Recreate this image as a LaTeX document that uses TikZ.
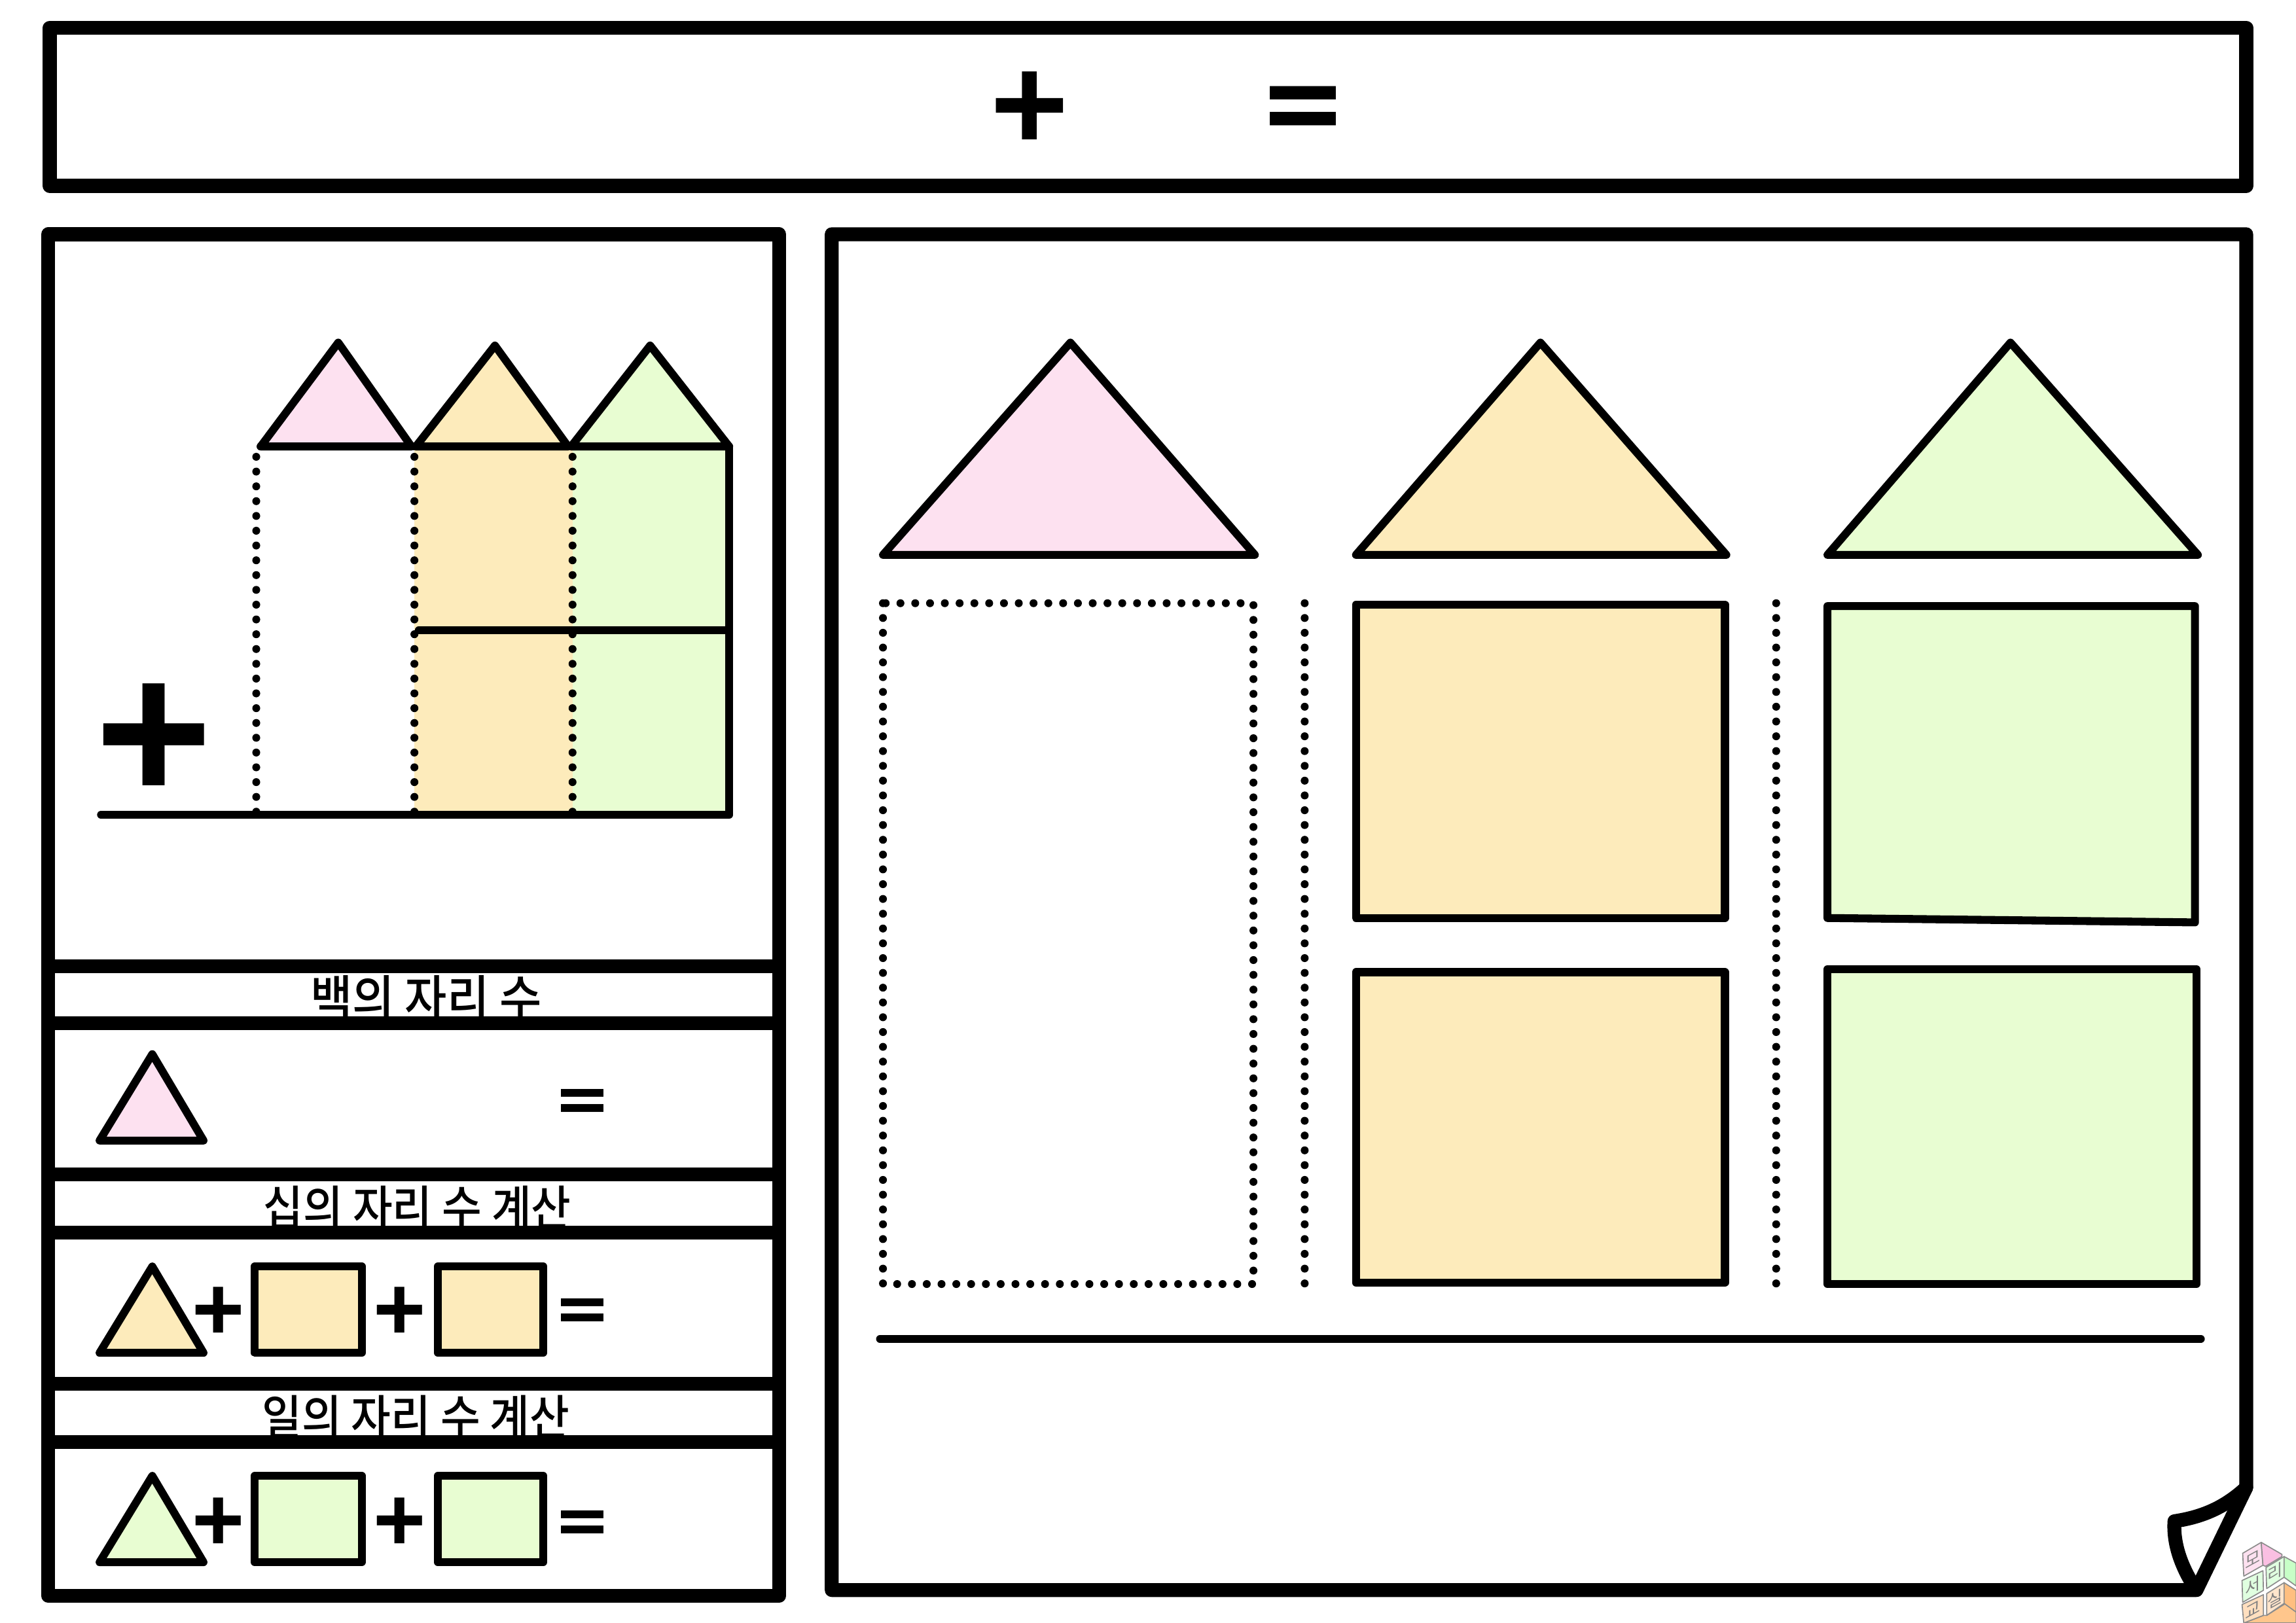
\documentclass[tikz,border=0pt]{standalone}
\usepackage{fontspec}
\usepackage{xcolor}
\usepackage{tikz}
\newfontfamily\krfont{Noto Sans CJK KR}
\newfontfamily\krmedium{Noto Sans CJK KR Medium}
\newfontfamily\signfont{Liberation Sans}
\newfontfamily\equalfont{DejaVu Sans}
\definecolor{hundredpink}{HTML}{FDE1F0}
\definecolor{tenorange}{HTML}{FDEBBB}
\definecolor{onegreen}{HTML}{E8FDD2}
\tikzset{
  frameline/.style={line width=0.95mm, line join=round, line cap=round},
  cellline/.style={line width=0.54mm, line join=round, line cap=round},
  dotline/.style={line width=0.54mm, line cap=round, dash pattern=on 0pt off 1.01mm},
  rowlabel/.style={inner sep=0pt, yscale=1.1, transform shape, font=\krmedium\fontsize{8.4}{10}\selectfont},
  bigsign/.style={inner sep=0pt, font=\signfont\bfseries\fontsize{39}{39}\selectfont},
  midsign/.style={inner sep=0pt, font=\signfont\bfseries\fontsize{26}{26}\selectfont},
  smallsign/.style={inner sep=0pt, font=\signfont\bfseries\fontsize{17.5}{17.5}\selectfont},
  midequal/.style={inner sep=0pt, yscale=1.1, transform shape, font=\equalfont\bfseries\fontsize{20.5}{20.5}\selectfont},
  smallequal/.style={inner sep=0pt, font=\equalfont\bfseries\fontsize{13.2}{13.2}\selectfont},
  logoline/.style={draw=black!45, line width=0.075mm, line join=round},
  logotext/.style={inner sep=0pt, text=black!50, yslant=0.55, transform shape, font=\krfont\fontsize{3.2}{4}\selectfont},
}

\begin{document}
\begin{tikzpicture}[x=0.1mm, y=-0.1mm]
  \useasboundingbox (0, 0) rectangle (1568, 1108.5);

  % Title bar
  \draw[frameline] (34, 19) rectangle (1534, 127);
  \node[midsign] (titleplus) at (703, 76) {+};
  \node[midequal] (titleequal) at (890, 78) {=};

  % Row captions, the bands below run over their feet
  \node[rowlabel, font=\krmedium\fontsize{8.9}{10}\selectfont] (hundredlabel) at (291, 682) {백의 자리 수};
  \node[rowlabel] (tenlabel) at (285, 825) {십의 자리 수 계산};
  \node[rowlabel] (onelabel) at (284, 968) {일의 자리 수 계산};

  % Left panel
  \draw[frameline] (33, 160) rectangle (532, 1090);
  \foreach \bandy in {660, 699, 802, 842, 945, 985}
    \draw[frameline] (33, \bandy) -- (532, \bandy);

  % Small column sum
  \fill[tenorange] (283, 305) rectangle (391, 556);
  \fill[onegreen] (391, 305) rectangle (498, 556);
  \draw[cellline, fill=hundredpink] (178, 305) -- (231, 234) -- (281, 305) -- cycle;
  \draw[cellline, fill=tenorange] (284, 305) -- (338, 236) -- (388, 305) -- cycle;
  \draw[cellline, fill=onegreen] (390, 305) -- (444, 236) -- (498, 305) -- cycle;
  \draw[cellline] (178, 305) -- (498, 305) -- (498, 556.5) -- (69, 556.5);
  \draw[cellline] (286, 430.5) -- (496, 430.5);
  \foreach \colx in {175, 283, 391}
    \draw[dotline] (\colx, 312) -- (\colx, 555);
  \node[bigsign] (sumplus) at (105, 507) {+};

  % Row of hundreds
  \draw[cellline, fill=hundredpink] (68, 779) -- (104, 720) -- (139, 779) -- cycle;
  \node[smallequal] (hundredequal) at (398, 755) {=};

  % Row of tens
  \draw[cellline, fill=tenorange] (68, 924) -- (104, 865) -- (139, 924) -- cycle;
  \draw[cellline, fill=tenorange] (174, 865) rectangle (247, 924);
  \draw[cellline, fill=tenorange] (299, 865) rectangle (371, 924);
  \node[smallsign] (tenplusa) at (149, 897) {+};
  \node[smallsign] (tenplusb) at (273, 897) {+};
  \node[smallequal] (tenequal) at (398, 898) {=};

  % Row of ones
  \draw[cellline, fill=onegreen] (68, 1067) -- (104, 1008) -- (139, 1067) -- cycle;
  \draw[cellline, fill=onegreen] (174, 1008) rectangle (247, 1067);
  \draw[cellline, fill=onegreen] (299, 1008) rectangle (371, 1067);
  \node[smallsign] (oneplusa) at (149, 1041) {+};
  \node[smallsign] (oneplusb) at (273, 1041) {+};
  \node[smallequal] (oneequal) at (398, 1043) {=};

  % Right panel with turned corner
  \draw[frameline] (568, 160) -- (1534, 160) -- (1534, 1016) -- (1500, 1086) -- (568, 1086) -- cycle;
  \draw[frameline] (1534, 1016) .. controls (1520, 1029) and (1505, 1036) .. (1485, 1039)
    .. controls (1484, 1055) and (1490, 1070) .. (1498, 1083);

  % Roofs
  \draw[cellline, fill=hundredpink] (603, 379) -- (731, 234) -- (857, 379) -- cycle;
  \draw[cellline, fill=tenorange] (926, 379) -- (1052, 234) -- (1179, 379) -- cycle;
  \draw[cellline, fill=onegreen] (1248, 379) -- (1373, 234) -- (1501, 379) -- cycle;

  % Hundreds column
  \draw[dotline] (603, 412) rectangle (856, 877);

  % Column separators
  \draw[dotline] (891, 412) -- (891, 878);
  \draw[dotline] (1213, 412) -- (1213, 878);

  % Tens column
  \draw[cellline, fill=tenorange] (926, 413) rectangle (1178, 627);
  \draw[cellline, fill=tenorange] (926, 664) rectangle (1178, 876);

  % Ones column
  \draw[cellline, fill=onegreen] (1248, 414) -- (1499, 414) -- (1499, 630) -- (1248, 627) -- cycle;
  \draw[cellline, fill=onegreen] (1248, 662) rectangle (1500, 877);

  % Answer line
  \draw[cellline] (601, 914.5) -- (1503, 914.5);

  % Logo in the corner
  \begin{scope}[shift={(1523.4, 1046)}, x=0.0149mm, y=-0.0149mm]
    \fill[logoline, fill=orange!45] (60, 420) -- (150, 385) -- (165, 385) -- (300, 300) -- (300, 420) -- cycle;
    \fill[logoline, fill=orange!25] (52, 335) -- (150, 290) -- (150, 385) -- (60, 420) -- cycle;
    \fill[logoline, fill=orange!20] (165, 285) -- (245, 235) -- (245, 330) -- (165, 385) -- cycle;
    \fill[logoline, fill=orange!50] (245, 235) -- (300, 270) -- (300, 370) -- (245, 330) -- cycle;
    \fill[logoline, fill=green!12] (52, 225) -- (148, 180) -- (150, 270) -- (55, 325) -- cycle;
    \fill[logoline, fill=green!12] (162, 165) -- (245, 115) -- (245, 210) -- (165, 262) -- cycle;
    \fill[logoline, fill=green!22] (245, 115) -- (300, 145) -- (300, 250) -- (245, 210) -- cycle;
    \fill[logoline, fill=hundredpink] (55, 100) -- (140, 50) -- (148, 155) -- (60, 205) -- cycle;
    \fill[logoline, fill=magenta!25] (140, 50) -- (235, 105) -- (235, 115) -- (160, 160) -- (148, 155) -- cycle;
    \node[logotext] (logoa) at (103, 128) {모};
    \node[logotext] (logob) at (103, 252) {서};
    \node[logotext] (logoc) at (205, 188) {리};
    \node[logotext] (logod) at (103, 358) {교};
    \node[logotext] (logoe) at (205, 310) {실};
  \end{scope}
\end{tikzpicture}
\end{document}
